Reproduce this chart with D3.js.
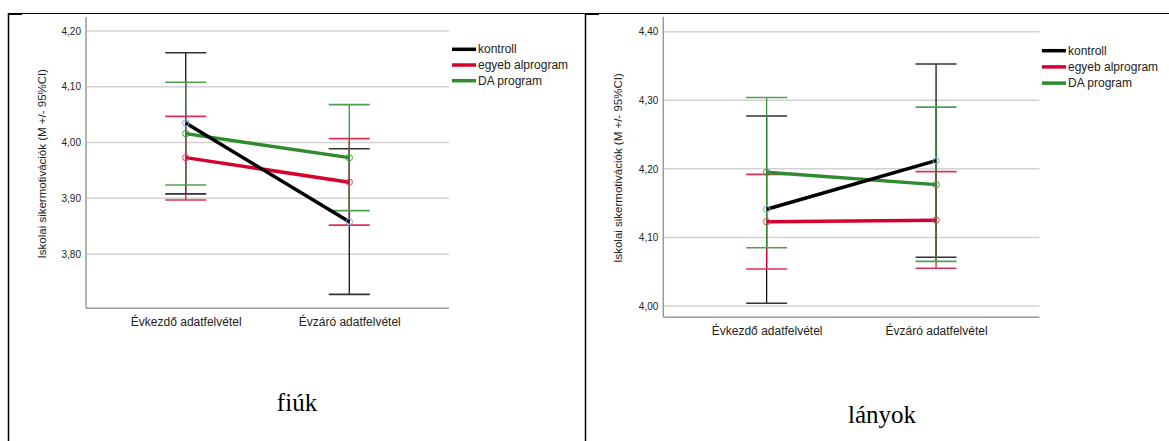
<!DOCTYPE html>
<html><head><meta charset="utf-8">
<script src="https://cdn.jsdelivr.net/npm/d3@7"></script>
<style>body{margin:0;background:#fff}svg{display:block}</style>
</head><body><svg id="c" width="1169" height="441"></svg>
<script>
const categories = ["Évkezdő adatfelvétel", "Évzáró adatfelvétel"];
const seriesNames = ["kontroll", "egyeb alprogram", "DA program"];
const seriesColors = ["#000000", "#d6002f", "#2e8b2e"];
const markerColors = ["#7aa9e0", "#e0405f", "#3f9a3f"];
const capColors = ["#333333", "#e0305a", "#4f9f4f"];

// fiúk
const fiukMean = [[4.035, 3.858], [3.973, 3.929], [4.016, 3.973]];
const fiukLow  = [[3.908, 3.728], [3.897, 3.852], [3.924, 3.878]];
const fiukHigh = [[4.161, 3.989], [4.047, 4.007], [4.108, 4.068]];
const fiukTicks = [3.80, 3.90, 4.00, 4.10, 4.20];

// lányok
const lanyokMean = [[4.141, 4.212], [4.123, 4.125], [4.195, 4.177]];
const lanyokLow  = [[4.004, 4.071], [4.054, 4.055], [4.085, 4.065]];
const lanyokHigh = [[4.277, 4.353], [4.192, 4.196], [4.304, 4.290]];
const lanyokTicks = [4.00, 4.10, 4.20, 4.30, 4.40];

const yTitle = "Iskolai sikermotivációk (M +/- 95%CI)";
const svg = d3.select("#c");
const fmt = v => d3.format(".2f")(v).replace(".", ",");
const sans = "Arial, 'Liberation Sans', sans-serif";

// frame
const frame = svg.append("g").attr("stroke", "#000");
frame.append("line").attr("x1", 8).attr("x2", 1169).attr("y1", 13.5).attr("y2", 13.5).attr("stroke-width", 1.2);
frame.append("line").attr("x1", 8.5).attr("x2", 8.5).attr("y1", 13).attr("y2", 441).attr("stroke-width", 1.5);
frame.append("line").attr("x1", 585.5).attr("x2", 585.5).attr("y1", 13).attr("y2", 441).attr("stroke-width", 1.5);
frame.append("line").attr("x1", 8).attr("x2", 22).attr("y1", 14).attr("y2", 14).attr("stroke-width", 2);
frame.append("line").attr("x1", 585).attr("x2", 599).attr("y1", 14).attr("y2", 14).attr("stroke-width", 2);

function panel(cfg) {
  const g = svg.append("g");
  const x = d3.scalePoint().domain(categories).range([cfg.x0, cfg.x1]).padding(0.61);
  const y = d3.scaleLinear().domain(cfg.domain).range([cfg.bottom, cfg.top]);
  g.append("g").selectAll("line").data(cfg.ticks).join("line")
    .attr("x1", cfg.x0).attr("x2", cfg.x1)
    .attr("y1", d => y(d)).attr("y2", d => y(d))
    .attr("stroke", "#d2d2d2").attr("stroke-width", 1.5);
  const yAxis = d3.axisLeft(y).tickValues(cfg.ticks).tickFormat(fmt).tickSize(0).tickPadding(5);
  const ya = g.append("g").attr("transform", `translate(${cfg.x0},0)`).call(yAxis);
  ya.select(".domain").remove();
  ya.selectAll("text").attr("font-family", sans).attr("font-size", 10).attr("fill", "#222");
  const xAxis = d3.axisBottom(x).tickSize(0).tickPadding(cfg.xLabelPad);
  const xa = g.append("g").attr("transform", `translate(0,${cfg.bottom})`).call(xAxis);
  xa.select(".domain").remove();
  xa.selectAll("text").attr("font-family", sans).attr("font-size", 12).attr("fill", "#222");
  g.append("line").attr("x1", cfg.x0).attr("x2", cfg.x0).attr("y1", cfg.top).attr("y2", cfg.bottom)
    .attr("stroke", "#9a9a9a").attr("stroke-width", 1.5);
  g.append("line").attr("x1", cfg.x0).attr("x2", cfg.x1).attr("y1", cfg.bottom).attr("y2", cfg.bottom)
    .attr("stroke", "#9a9a9a").attr("stroke-width", 1.5);
  g.append("text").attr("transform", `translate(${cfg.titleX},${(cfg.top + cfg.bottom) / 2 + 1}) rotate(-90)`)
    .attr("text-anchor", "middle").attr("font-family", sans)
    .attr("font-size", 11.5).attr("fill", "#222").text(yTitle);
  const capHalf = 20.5;
  seriesNames.forEach((s, i) => {
    const eb = g.append("g");
    categories.forEach((c, j) => {
      const cx = x(c);
      eb.append("line").attr("x1", cx).attr("x2", cx).attr("y1", y(cfg.low[i][j])).attr("y2", y(cfg.high[i][j]))
        .attr("stroke", seriesColors[i]).attr("stroke-width", 1.2);
      [cfg.low[i][j], cfg.high[i][j]].forEach(v => {
        eb.append("line").attr("x1", cx - capHalf).attr("x2", cx + capHalf).attr("y1", y(v)).attr("y2", y(v))
          .attr("stroke", capColors[i]).attr("stroke-width", 1.6);
      });
    });
  });
  const line = d3.line().x((d, j) => x(categories[j])).y(d => y(d));
  [2, 1, 0].forEach(i => {
    g.append("path").datum(cfg.mean[i]).attr("d", line).attr("fill", "none")
      .attr("stroke", seriesColors[i]).attr("stroke-width", 3.5);
  });
  seriesNames.forEach((s, i) => {
    g.append("g").selectAll("circle").data(cfg.mean[i]).join("circle")
      .attr("cx", (d, j) => x(categories[j])).attr("cy", d => y(d)).attr("r", 3.2)
      .attr("fill", "none").attr("stroke", markerColors[i]).attr("stroke-width", 1);
  });
  const lg = g.append("g").attr("transform", `translate(${cfg.legX},${cfg.legY})`);
  seriesNames.forEach((s, i) => {
    const yy = i * cfg.legStep;
    lg.append("line").attr("x1", 0).attr("x2", 24).attr("y1", yy).attr("y2", yy)
      .attr("stroke", seriesColors[i]).attr("stroke-width", 3.5);
    lg.append("text").attr("x", 26).attr("y", yy + 4).attr("font-family", sans)
      .attr("font-size", 12).attr("fill", "#222").text(s);
  });
  g.append("text").attr("x", cfg.capX).attr("y", cfg.capY).attr("text-anchor", "middle")
    .attr("font-family", "'Liberation Serif', 'Times New Roman', serif").attr("font-size", 25)
    .attr("fill", "#000").text(cfg.caption);
}

panel({x0: 86, x1: 449, top: 17, bottom: 308.3, domain: [3.703, 4.225], ticks: fiukTicks,
  mean: fiukMean, low: fiukLow, high: fiukHigh, titleX: 46, xLabelPad: 9,
  legX: 452, legY: 49.3, legStep: 15.7, caption: "fiúk", capX: 297, capY: 411});
panel({x0: 663.3, x1: 1039.4, top: 16.7, bottom: 317.3, domain: [3.9835, 4.4219], ticks: lanyokTicks,
  mean: lanyokMean, low: lanyokLow, high: lanyokHigh, titleX: 622, xLabelPad: 9,
  legX: 1042, legY: 50.7, legStep: 16.2, caption: "lányok", capX: 882, capY: 423});
</script></body></html>
